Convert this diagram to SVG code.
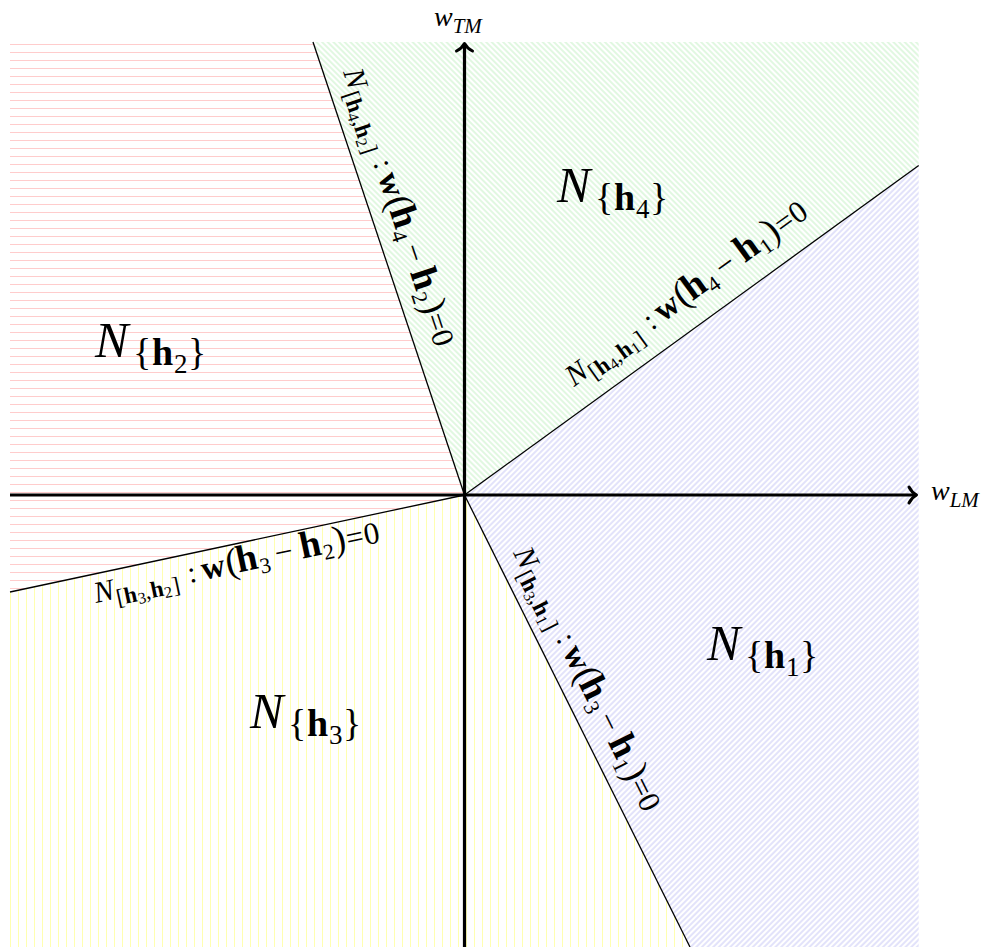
<svg xmlns="http://www.w3.org/2000/svg" width="988" height="947" viewBox="0 0 988 947">
<style>
.t{font-family:"Liberation Serif","Times New Roman",serif;fill:#000}
.it{font-style:italic}
.bf{font-weight:bold}
.bd{stroke:#000;stroke-width:1.3;fill:none}
.ax{stroke:#000;stroke-width:3.2;fill:none}
</style>
<defs>
<pattern id="pR" patternUnits="userSpaceOnUse" width="10" height="8"><line x1="-1" y1="4.5" x2="11" y2="4.5" stroke="#ffcccc" stroke-width="1"/></pattern>
<pattern id="pY" patternUnits="userSpaceOnUse" width="8" height="10"><line x1="2.5" y1="-1" x2="2.5" y2="11" stroke="#ffffb0" stroke-width="1"/></pattern>
<pattern id="pG" patternUnits="userSpaceOnUse" width="10" height="4" patternTransform="rotate(45)"><line x1="-1" y1="2" x2="11" y2="2" stroke="#b4ecb4" stroke-width="0.8"/></pattern>
<pattern id="pB" patternUnits="userSpaceOnUse" width="10" height="4" patternTransform="rotate(-45)"><line x1="-1" y1="2" x2="11" y2="2" stroke="#b8b8f2" stroke-width="0.8"/></pattern>
<marker id="arr" markerUnits="userSpaceOnUse" orient="auto" overflow="visible" refX="0" refY="0" markerWidth="20" markerHeight="20"><path d="M-7.5,-8 C-5,-3 -1.5,-0.8 0,0 C-1.5,0.8 -5,3 -7.5,8" fill="none" stroke="#000" stroke-width="3" stroke-linecap="round" stroke-linejoin="round"/></marker>
</defs>
<g id="regions">
<polygon id="r-h2" points="10,42 313,42 464.5,495 10,592" fill="url(#pR)"/>
<polygon id="r-h4" points="313,42 918.7,42 918.7,165.5 464.5,495" fill="url(#pG)"/>
<polygon id="r-h1" points="918.7,165.5 918.7,947 690,947 464.5,495" fill="url(#pB)"/>
<polygon id="r-h3" points="10,592 464.5,495 690,947 10,947" fill="url(#pY)"/>
</g>
<g id="connectors">
<line class="bd" x1="313" y1="42" x2="464.5" y2="495"/>
<line class="bd" x1="464.5" y1="495" x2="918.7" y2="165.5"/>
<line class="bd" x1="10" y1="592" x2="464.5" y2="495"/>
<line class="bd" x1="464.5" y1="495" x2="690" y2="947"/>
<line class="ax" x1="10" y1="495" x2="916.5" y2="495" marker-end="url(#arr)"/>
<line class="ax" x1="464.5" y1="947" x2="464.5" y2="43.5" marker-end="url(#arr)"/>
</g>
<g id="axis-labels">
<text class="t" x="434" y="26"><tspan class="it" font-size="28">w</tspan><tspan class="it" font-size="21" y="33">TM</tspan></text>
<text class="t" x="931" y="500"><tspan class="it" font-size="28">w</tspan><tspan class="it" font-size="21" y="507">LM</tspan></text>
</g>
<g id="n-h2" transform="translate(95,357)">
<text class="t"><tspan class="it" font-size="50" x="0" y="0">N</tspan><tspan font-size="38" x="38" y="8">{</tspan><tspan class="bf" font-size="38" x="57" y="8">h</tspan><tspan font-size="27" x="79" y="16">2</tspan><tspan font-size="38" x="93" y="8">}</tspan></text>
</g>
<g id="n-h4" transform="translate(557,202)">
<text class="t"><tspan class="it" font-size="50" x="0" y="0">N</tspan><tspan font-size="38" x="38" y="8">{</tspan><tspan class="bf" font-size="38" x="57" y="8">h</tspan><tspan font-size="27" x="79" y="16">4</tspan><tspan font-size="38" x="93" y="8">}</tspan></text>
</g>
<g id="n-h1" transform="translate(707,660)">
<text class="t"><tspan class="it" font-size="50" x="0" y="0">N</tspan><tspan font-size="38" x="38" y="8">{</tspan><tspan class="bf" font-size="38" x="57" y="8">h</tspan><tspan font-size="27" x="79" y="16">1</tspan><tspan font-size="38" x="93" y="8">}</tspan></text>
</g>
<g id="n-h3" transform="translate(250,728)">
<text class="t"><tspan class="it" font-size="50" x="0" y="0">N</tspan><tspan font-size="38" x="38" y="8">{</tspan><tspan class="bf" font-size="38" x="57" y="8">h</tspan><tspan font-size="27" x="79" y="16">3</tspan><tspan font-size="38" x="93" y="8">}</tspan></text>
</g>
<g id="lbl-h4h2" transform="translate(343,72) rotate(71.56)">
<text class="t"><tspan class="it" font-size="30" x="0" y="0">N</tspan><tspan font-size="23" x="21" y="7">[</tspan><tspan class="bf" font-size="23" x="29" y="7">h</tspan><tspan font-size="16" x="42" y="10">4</tspan><tspan font-size="23" x="50" y="7">,</tspan><tspan class="bf" font-size="23" x="56" y="7">h</tspan><tspan font-size="16" x="69" y="10">2</tspan><tspan font-size="23" x="78" y="7">]</tspan><tspan font-size="30" x="96" y="0">:</tspan><tspan class="bf" font-size="33" x="110" y="0">w</tspan><tspan font-size="37" x="135" y="0">(</tspan><tspan class="bf" font-size="38" x="146" y="0">h</tspan><tspan font-size="22" x="168" y="6">4</tspan><tspan font-size="32" x="185" y="0">−</tspan><tspan class="bf" font-size="38" x="211" y="0">h</tspan><tspan font-size="22" x="233" y="6">2</tspan><tspan font-size="37" x="245" y="0">)</tspan><tspan font-size="31" x="258" y="0">=</tspan><tspan font-size="31" x="276" y="0">0</tspan></text>
</g>
<g id="lbl-h4h1" transform="translate(574,387) rotate(-35.93)">
<text class="t"><tspan class="it" font-size="30" x="0" y="0">N</tspan><tspan font-size="23" x="21" y="7">[</tspan><tspan class="bf" font-size="23" x="29" y="7">h</tspan><tspan font-size="16" x="42" y="10">4</tspan><tspan font-size="23" x="50" y="7">,</tspan><tspan class="bf" font-size="23" x="56" y="7">h</tspan><tspan font-size="16" x="69" y="10">1</tspan><tspan font-size="23" x="78" y="7">]</tspan><tspan font-size="30" x="96" y="0">:</tspan><tspan class="bf" font-size="33" x="110" y="0">w</tspan><tspan font-size="37" x="135" y="0">(</tspan><tspan class="bf" font-size="38" x="146" y="0">h</tspan><tspan font-size="22" x="168" y="6">4</tspan><tspan font-size="32" x="185" y="0">−</tspan><tspan class="bf" font-size="38" x="211" y="0">h</tspan><tspan font-size="22" x="233" y="6">1</tspan><tspan font-size="37" x="245" y="0">)</tspan><tspan font-size="31" x="258" y="0">=</tspan><tspan font-size="31" x="276" y="0">0</tspan></text>
</g>
<g id="lbl-h3h2" transform="translate(96,603) rotate(-12.09)">
<text class="t"><tspan class="it" font-size="30" x="0" y="0">N</tspan><tspan font-size="23" x="21" y="7">[</tspan><tspan class="bf" font-size="23" x="29" y="7">h</tspan><tspan font-size="16" x="42" y="10">3</tspan><tspan font-size="23" x="50" y="7">,</tspan><tspan class="bf" font-size="23" x="56" y="7">h</tspan><tspan font-size="16" x="69" y="10">2</tspan><tspan font-size="23" x="78" y="7">]</tspan><tspan font-size="30" x="96" y="0">:</tspan><tspan class="bf" font-size="33" x="110" y="0">w</tspan><tspan font-size="37" x="135" y="0">(</tspan><tspan class="bf" font-size="38" x="146" y="0">h</tspan><tspan font-size="22" x="168" y="6">3</tspan><tspan font-size="32" x="185" y="0">−</tspan><tspan class="bf" font-size="38" x="211" y="0">h</tspan><tspan font-size="22" x="233" y="6">2</tspan><tspan font-size="37" x="245" y="0">)</tspan><tspan font-size="31" x="258" y="0">=</tspan><tspan font-size="31" x="276" y="0">0</tspan></text>
</g>
<g id="lbl-h3h1" transform="translate(513,553) rotate(63.43)">
<text class="t"><tspan class="it" font-size="30" x="0" y="0">N</tspan><tspan font-size="23" x="21" y="7">[</tspan><tspan class="bf" font-size="23" x="29" y="7">h</tspan><tspan font-size="16" x="42" y="10">3</tspan><tspan font-size="23" x="50" y="7">,</tspan><tspan class="bf" font-size="23" x="56" y="7">h</tspan><tspan font-size="16" x="69" y="10">1</tspan><tspan font-size="23" x="78" y="7">]</tspan><tspan font-size="30" x="96" y="0">:</tspan><tspan class="bf" font-size="33" x="110" y="0">w</tspan><tspan font-size="37" x="135" y="0">(</tspan><tspan class="bf" font-size="38" x="146" y="0">h</tspan><tspan font-size="22" x="168" y="6">3</tspan><tspan font-size="32" x="185" y="0">−</tspan><tspan class="bf" font-size="38" x="211" y="0">h</tspan><tspan font-size="22" x="233" y="6">1</tspan><tspan font-size="37" x="245" y="0">)</tspan><tspan font-size="31" x="258" y="0">=</tspan><tspan font-size="31" x="276" y="0">0</tspan></text>
</g>
</svg>
